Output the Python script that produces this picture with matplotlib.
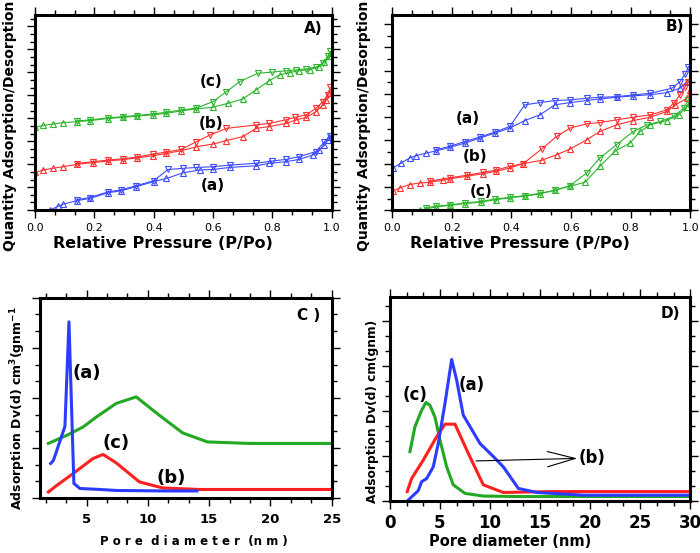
import numpy as np
import matplotlib.pyplot as plt
from matplotlib.ticker import FixedLocator, MultipleLocator, NullFormatter

plt.rcParams['font.family'] = ['DejaVu Sans']

# ---------------- Panel A: isotherms ----------------
a_ads_x = [0.05, 0.078, 0.095, 0.14, 0.185, 0.247, 0.29, 0.34, 0.40, 0.443, 0.50, 0.555, 0.60,
           0.656, 0.745, 0.79, 0.846, 0.89, 0.936, 0.958, 0.975, 0.986, 0.992]
a_ads_y = [0.0, 0.17, 0.26, 0.41, 0.51, 0.76, 0.84, 1.02, 1.24, 1.38, 1.63, 1.75, 1.77,
           1.86, 1.93, 2.04, 2.11, 2.21, 2.40, 2.62, 2.84, 3.05, 3.20]
a_des_x = [0.995, 0.975, 0.947, 0.89, 0.846, 0.80, 0.745, 0.656, 0.60, 0.544, 0.50, 0.448,
           0.40, 0.34, 0.29, 0.247, 0.185, 0.14]
a_des_y = [3.22, 2.98, 2.55, 2.33, 2.21, 2.14, 2.04, 1.96, 1.89, 1.86, 1.82, 1.77,
           1.28, 1.06, 0.88, 0.80, 0.55, 0.45]

b_ads_x = [0.0, 0.028, 0.062, 0.095, 0.14, 0.196, 0.247, 0.297, 0.342, 0.398, 0.443, 0.493,
           0.544, 0.60, 0.645, 0.70, 0.745, 0.79, 0.846, 0.88, 0.914, 0.947, 0.97, 0.98, 0.99]
b_ads_y = [1.64, 1.75, 1.83, 1.89, 1.99, 2.07, 2.14, 2.20, 2.27, 2.37, 2.47, 2.59,
           2.76, 2.88, 3.03, 3.20, 3.56, 3.64, 3.78, 3.93, 4.04, 4.29, 4.58, 4.80, 5.09]
b_des_x = [0.995, 0.986, 0.97, 0.947, 0.914, 0.875, 0.846, 0.79, 0.745, 0.645, 0.589, 0.544,
           0.493, 0.443, 0.398, 0.342, 0.297, 0.247, 0.196, 0.14]
b_des_y = [5.35, 5.02, 4.73, 4.44, 4.15, 4.04, 3.93, 3.78, 3.71, 3.56, 3.27, 2.98,
           2.65, 2.53, 2.44, 2.31, 2.24, 2.18, 2.11, 2.03]

c_ads_x = [0.0, 0.028, 0.062, 0.095, 0.14, 0.185, 0.247, 0.297, 0.342, 0.398, 0.443, 0.493,
           0.544, 0.60, 0.65, 0.70, 0.745, 0.79, 0.824, 0.858, 0.891, 0.925, 0.958, 0.975, 0.992, 0.998]
c_ads_y = [3.61, 3.69, 3.75, 3.81, 3.85, 3.90, 3.99, 4.04, 4.09, 4.15, 4.22, 4.32,
           4.41, 4.48, 4.65, 4.84, 5.24, 5.64, 5.89, 5.99, 6.08, 6.11, 6.25, 6.47, 6.72, 6.84]
c_des_x = [0.995, 0.986, 0.97, 0.947, 0.914, 0.88, 0.846, 0.80, 0.75, 0.69, 0.645, 0.60,
           0.544, 0.493, 0.443, 0.398, 0.342, 0.297, 0.247, 0.185, 0.14]
c_des_y = [6.91, 6.69, 6.40, 6.23, 6.15, 6.11, 6.07, 6.01, 5.96, 5.60, 5.16, 4.73,
           4.44, 4.36, 4.26, 4.19, 4.12, 4.07, 4.02, 3.93, 3.88]

# ---------------- Panel B: isotherms ----------------
ba_ads_x = [0.003, 0.031, 0.059, 0.082, 0.115, 0.149, 0.194, 0.244, 0.295, 0.345, 0.395, 0.445,
            0.496, 0.546, 0.597, 0.653, 0.697, 0.753, 0.809, 0.866, 0.922, 0.966, 0.989]
ba_ads_y = [3.63, 4.06, 4.49, 4.69, 4.91, 5.11, 5.40, 5.77, 6.20, 6.63, 7.06, 7.71,
            8.20, 9.06, 9.26, 9.43, 9.57, 9.71, 9.83, 9.94, 10.11, 10.49, 11.06]
ba_des_x = [0.994, 0.983, 0.966, 0.938, 0.866, 0.809, 0.753, 0.697, 0.653, 0.597, 0.546,
            0.496, 0.445, 0.395, 0.345, 0.295, 0.244, 0.194, 0.149]
ba_des_y = [12.34, 11.71, 11.06, 10.49, 10.06, 9.91, 9.77, 9.71, 9.63, 9.49, 9.43,
            9.26, 9.06, 7.20, 6.72, 6.30, 5.90, 5.50, 5.20]

bb_ads_x = [0.003, 0.026, 0.059, 0.093, 0.127, 0.171, 0.194, 0.25, 0.306, 0.35, 0.395, 0.44,
            0.502, 0.552, 0.597, 0.653, 0.697, 0.753, 0.809, 0.866, 0.922, 0.95, 0.989, 1.0]
bb_ads_y = [1.63, 1.91, 2.20, 2.34, 2.40, 2.57, 2.69, 2.91, 3.14, 3.34, 3.63, 4.00,
            4.29, 4.77, 5.26, 6.06, 6.77, 7.34, 7.71, 8.00, 8.49, 9.06, 9.63, 10.34]
bb_des_x = [0.994, 0.983, 0.966, 0.944, 0.922, 0.866, 0.809, 0.753, 0.697, 0.653, 0.597,
            0.552, 0.502, 0.44, 0.395, 0.35, 0.306, 0.25, 0.194, 0.127]
bb_des_y = [11.06, 10.63, 9.91, 9.20, 8.63, 8.20, 8.00, 7.77, 7.54, 7.43, 7.06,
            6.34, 5.26, 4.00, 3.77, 3.45, 3.25, 3.00, 2.78, 2.50]

bc_ads_x = [0.093, 0.115, 0.149, 0.194, 0.244, 0.30, 0.35, 0.395, 0.445, 0.496, 0.546, 0.597,
            0.647, 0.697, 0.747, 0.798, 0.832, 0.866, 0.922, 0.961, 0.989, 1.0]
bc_ads_y = [0.0, 0.11, 0.29, 0.40, 0.57, 0.69, 0.91, 1.06, 1.20, 1.40, 1.71, 2.06,
            2.40, 3.77, 5.06, 5.77, 6.77, 7.34, 7.71, 8.20, 8.91, 9.20]
bc_des_x = [0.994, 0.978, 0.944, 0.899, 0.855, 0.809, 0.753, 0.697, 0.653, 0.597, 0.546,
            0.496, 0.445, 0.395, 0.345, 0.30, 0.244, 0.194, 0.149, 0.115]
bc_des_y = [9.49, 8.77, 8.06, 7.63, 7.34, 6.77, 5.63, 4.49, 3.20, 2.11, 1.71,
            1.45, 1.25, 1.10, 0.95, 0.75, 0.62, 0.45, 0.34, 0.20]

# ---------------- Panel C: pore size distribution ----------------
pc_a_x = [2.08, 2.3, 3.24, 3.57, 3.97, 4.46, 6.08, 7.43, 11.5, 14.0]
pc_a_y = [0.69, 0.75, 1.43, 3.52, 0.29, 0.19, 0.17, 0.15, 0.14, 0.14]
pc_b_x = [1.89, 2.57, 3.92, 5.54, 6.35, 7.43, 9.32, 11.22, 14.19, 24.92]
pc_b_y = [0.12, 0.25, 0.49, 0.79, 0.87, 0.70, 0.32, 0.20, 0.17, 0.17]
pc_c_x = [1.89, 3.38, 4.73, 5.81, 7.43, 9.05, 10.95, 12.84, 14.86, 18.24, 24.92]
pc_c_y = [1.09, 1.25, 1.42, 1.62, 1.89, 2.02, 1.65, 1.30, 1.12, 1.09, 1.09]

# ---------------- Panel D: pore size distribution ----------------
pd_a_x = [1.73, 2.83, 3.17, 3.67, 4.33, 4.83, 5.5, 6.17, 6.67, 7.33, 9.0, 10.33, 11.33,
          12.83, 14.67, 19.33, 30.0]
pd_a_y = [0.0, 0.23, 0.43, 0.50, 0.76, 1.28, 2.17, 3.15, 2.69, 1.91, 1.28, 0.99, 0.76,
          0.28, 0.19, 0.13, 0.13]
pd_b_x = [1.73, 2.17, 3.33, 4.67, 5.5, 6.5, 7.83, 9.33, 11.33, 16.0, 30.0]
pd_b_y = [0.21, 0.50, 0.91, 1.43, 1.71, 1.71, 1.06, 0.36, 0.19, 0.21, 0.21]
pd_c_x = [2.0, 2.5, 3.17, 3.6, 4.0, 4.5, 5.0, 5.67, 6.33, 7.5, 9.33, 12.67, 30.0]
pd_c_y = [1.10, 1.65, 2.02, 2.19, 2.13, 1.87, 1.36, 0.76, 0.36, 0.17, 0.11, 0.10, 0.10]

BLUE = '#2b3cff'
RED = '#ff1f1f'
GREEN = '#22a822'
BLUE_T = '#3c4cff'
RED_T = '#ff3030'
GREEN_T = '#2db52d'


def frame(ax):
    for s in ax.spines.values():
        s.set_linewidth(2.2)
    ax.tick_params(which='both', direction='out', top=True, right=True, width=1.0)
    ax.tick_params(which='major', length=6)
    ax.tick_params(which='minor', length=3.5)


def iso(ax, x1, y1, x2, y2, col):
    ax.plot(x1, y1, color=col, lw=0.8, marker='^', ms=5, mfc='none', mew=0.8)
    ax.plot(x2, y2, color=col, lw=0.8, marker='v', ms=5, mfc='none', mew=0.8)


fig = plt.figure(figsize=(7, 5.53), dpi=100)

axA = fig.add_axes([0.05, 0.620, 0.424, 0.353])
axB = fig.add_axes([0.56, 0.620, 0.426, 0.353])
axC = fig.add_axes([0.057, 0.0995, 0.417, 0.362])
axD = fig.add_axes([0.557, 0.094, 0.429, 0.369])

# A
iso(axA, a_ads_x, a_ads_y, a_des_x, a_des_y, BLUE_T)
iso(axA, b_ads_x, b_ads_y, b_des_x, b_des_y, RED_T)
iso(axA, c_ads_x, c_ads_y, c_des_x, c_des_y, GREEN_T)
axA.set_xlim(0, 1.0)
axA.set_ylim(0, 8.5)
axA.text(0.594, 5.6, '(c)', fontsize=11, fontweight='bold', ha='center', va='center')
axA.text(0.594, 3.78, '(b)', fontsize=11, fontweight='bold', ha='center', va='center')
axA.text(0.60, 1.09, '(a)', fontsize=11, fontweight='bold', ha='center', va='center')
axA.text(0.936, 7.93, 'A)', fontsize=11, fontweight='bold', ha='center', va='center')

# B
iso(axB, ba_ads_x, ba_ads_y, ba_des_x, ba_des_y, BLUE_T)
iso(axB, bb_ads_x, bb_ads_y, bb_des_x, bb_des_y, RED_T)
iso(axB, bc_ads_x, bc_ads_y, bc_des_x, bc_des_y, GREEN_T)
axB.set_xlim(0, 1.0)
axB.set_ylim(0, 16.8)
axB.text(0.255, 7.91, '(a)', fontsize=11, fontweight='bold', ha='center', va='center')
axB.text(0.278, 4.63, '(b)', fontsize=11, fontweight='bold', ha='center', va='center')
axB.text(0.30, 1.63, '(c)', fontsize=11, fontweight='bold', ha='center', va='center')
axB.text(0.95, 15.77, 'B)', fontsize=11, fontweight='bold', ha='center', va='center')

for ax, ymaj, ymin, ylx in ((axA, 1, 1 / 3, -0.06), (axB, 2, 1, -0.07)):
    frame(ax)
    ax.xaxis.set_major_locator(FixedLocator([0.0, 0.2, 0.4, 0.6, 0.8, 1.0]))
    ax.xaxis.set_minor_locator(FixedLocator(np.linspace(0, 1, 16)))
    ax.set_xticklabels(['0.0', '0.2', '0.4', '0.6', '0.8', '1.0'])
    ax.yaxis.set_major_locator(MultipleLocator(ymaj))
    ax.yaxis.set_minor_locator(MultipleLocator(ymin))
    ax.yaxis.set_major_formatter(NullFormatter())
    ax.tick_params(axis='x', labelsize=8)
    ax.set_xlabel('Relative Pressure (P/Po)', fontsize=11.5, fontweight='bold')
    ax.xaxis.set_label_coords(0.43, -0.135)
    ax.set_ylabel('Quantity Adsorption/Desorption', fontsize=10, fontweight='bold')
    ax.yaxis.set_label_coords(ylx, 0.43)

# C
axC.plot(pc_c_x, pc_c_y, color=GREEN, lw=2.2)
axC.plot(pc_b_x, pc_b_y, color=RED, lw=2.2)
axC.plot(pc_a_x, pc_a_y, color=BLUE, lw=2.2)
axC.set_xlim(1.2, 25)
axC.set_ylim(0, 4)
axC.text(5.0, 2.49, '(a)', fontsize=13, fontweight='bold', ha='center', va='center')
axC.text(7.43, 1.09, '(c)', fontsize=13, fontweight='bold', ha='center', va='center')
axC.text(11.9, 0.39, '(b)', fontsize=13, fontweight='bold', ha='center', va='center')
axC.text(23.1, 3.65, 'C )', fontsize=11, fontweight='bold', ha='center', va='center')
frame(axC)
axC.xaxis.set_major_locator(FixedLocator([5, 10, 15, 20, 25]))
axC.xaxis.set_minor_locator(MultipleLocator(5 / 3))
axC.yaxis.set_major_locator(MultipleLocator(1))
axC.yaxis.set_minor_locator(MultipleLocator(1 / 3))
axC.yaxis.set_major_formatter(NullFormatter())
axC.tick_params(axis='x', labelsize=9.5, pad=5)
for t in axC.get_xticklabels():
    t.set_fontweight('bold')
axC.set_xlabel('P o r e  d i a m e t e r  (n m )', fontsize=8.5, fontweight='bold')
axC.xaxis.set_label_coords(0.527, -0.185)
axC.set_ylabel('Adsorption Dv(d) cm$^{\\mathbf{3}}$(gnm$^{\\mathbf{-1}}$', fontsize=9,
               fontweight='bold')
axC.yaxis.set_label_coords(-0.04, 0.45)

# D
axD.plot(pd_c_x, pd_c_y, color=GREEN, lw=2.2)
axD.plot(pd_b_x, pd_b_y, color=RED, lw=2.2)
axD.plot(pd_a_x, pd_a_y, color=BLUE, lw=2.2)
axD.set_xlim(0, 30)
axD.set_ylim(0, 4.54)
axD.text(2.5, 2.36, '(c)', fontsize=12, fontweight='bold', ha='center', va='center')
axD.text(8.17, 2.58, '(a)', fontsize=12, fontweight='bold', ha='center', va='center')
axD.text(20.2, 0.95, '(b)', fontsize=12, fontweight='bold', ha='center', va='center')
axD.text(28.0, 4.17, 'D)', fontsize=11, fontweight='bold', ha='center', va='center')
axD.annotate('', xy=(19.0, 0.95), xytext=(8.33, 0.89),
             arrowprops=dict(arrowstyle='->,head_length=2.0,head_width=0.55', color='black', lw=0.8))
frame(axD)
axD.xaxis.set_major_locator(FixedLocator([0, 5, 10, 15, 20, 25, 30]))
axD.xaxis.set_minor_locator(MultipleLocator(5 / 3))
axD.yaxis.set_major_locator(MultipleLocator(1))
axD.yaxis.set_minor_locator(MultipleLocator(1 / 3))
axD.yaxis.set_major_formatter(NullFormatter())
axD.tick_params(axis='x', labelsize=12)
for t in axD.get_xticklabels():
    t.set_fontweight('bold')
axD.set_xlabel('Pore diameter (nm)', fontsize=10.5, fontweight='bold')
axD.xaxis.set_label_coords(0.4, -0.16)
axD.set_ylabel('Adsorption Dv(d) cm(gnm)', fontsize=8.8, fontweight='bold')
axD.yaxis.set_label_coords(-0.035, 0.44)

fig.savefig('out.png', dpi=100)
